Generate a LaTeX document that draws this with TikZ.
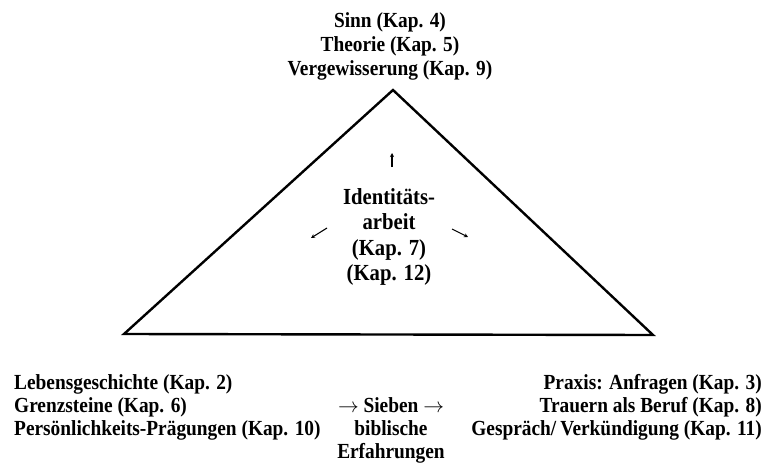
\documentclass[tikz,border=0pt]{standalone}
\usepackage{fontspec}
\setmainfont{Liberation Serif}[FakeStretch=0.9]
\usetikzlibrary{positioning,arrows.meta}

\begin{document}
\begin{tikzpicture}[x=1pt, y=-1pt,
  txt/.style={font=\bfseries\fontsize{21.5}{24}\selectfont, inner sep=0pt, align=center},
  big/.style={txt, font=\bfseries\fontsize{23}{25.5}\selectfont},
  low/.style={txt, font=\bfseries\fontsize{21.5}{23}\selectfont},
  edge/.style={line width=2.4pt, line join=miter},
  tick/.style={-{Stealth[length=4pt, width=4pt]}, line width=1.1pt},
]
\useasboundingbox (0,0) rectangle (765,468);

% === Triangle ===
\coordinate (apex) at (393, 90);
\coordinate (lc) at (124, 334);
\coordinate (rc) at (653, 335);
\draw[edge] (apex) -- (rc) -- (lc) -- cycle;

% === Top: Sinn / Theorie ===
\node[txt] (top) at (390, 46) {Sinn (Kap. 4)\\Theorie (Kap. 5)\\Vergewisserung (Kap. 9)};

% === Centre: Identitaetsarbeit ===
\node[big] (ident) at (389, 237) {Identitäts-\\arbeit\\(Kap. 7)\\(Kap. 12)};

\coordinate (u0) at (392, 167);
\coordinate (u1) at (392, 153);
\coordinate (l0) at (327, 228);
\coordinate (l1) at (311, 238);
\coordinate (r0) at (452, 229);
\coordinate (r1) at (468, 237);
\draw[tick] (u0) -- (u1);
\draw[tick] (l0) -- (l1);
\draw[tick] (r0) -- (r1);

% === Bottom: three columns ===
\node[low, align=left, anchor=west] (life) at (14, 407)
  {Lebensgeschichte (Kap. 2)\\Grenzsteine (Kap. 6)\\Persönlichkeits-Prägungen (Kap. 10)};
\node[low, align=right, anchor=east] (prax) at (762, 407)
  {Praxis: Anfragen (Kap. 3)\\Trauern als Beruf (Kap. 8)\\Gespräch/\hspace{4pt}Verkündigung (Kap. 11)};
\node[low] (bible) at (391, 430)
  {$\rightarrow$ Sieben $\rightarrow$\\biblische\\Erfahrungen};

\end{tikzpicture}
\end{document}
